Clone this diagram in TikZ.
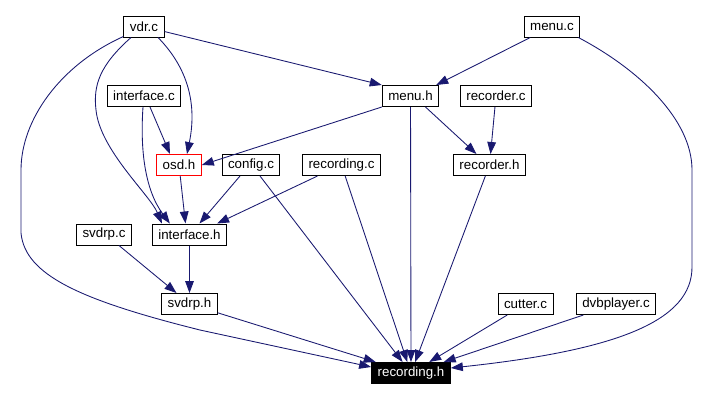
\documentclass[tikz,border=0pt]{standalone}
\usepackage{fontspec}
\setmainfont{Liberation Sans}
\usepackage{tikz}
\definecolor{edgeblue}{HTML}{191970}
\usetikzlibrary{arrows.meta,positioning,calc}

\begin{document}
\begin{tikzpicture}[x=0.75pt,y=-0.75pt,
    file/.style={draw=black,line width=0.75pt,fill=white,inner xsep=4.5pt,inner ysep=0pt,
        minimum height=15.75pt,font=\fontsize{10}{12}\selectfont},
    dep/.style={-{Triangle[length=9pt,width=6.5pt]},color=edgeblue,line width=0.65pt}]
    \useasboundingbox (0,0) rectangle (712,401);

    % sources and headers
    \node[file] (vdrc) at (144,26.5) {vdr.c};
    \node[file] (menuc) at (552,26.5) {menu.c};
    \node[file] (interfacec) at (144,96) {interface.c};
    \node[file] (menuh) at (410.5,96) {menu.h};
    \node[file] (recorderc) at (496,96) {recorder.c};
    \node[file,draw=red] (osdh) at (179,165) {osd.h};
    \node[file] (configc) at (251,165) {config.c};
    \node[file] (recordingc) at (341.5,165) {recording.c};
    \node[file] (recorderh) at (489.5,165) {recorder.h};
    \node[file] (svdrpc) at (104,234.5) {svdrp.c};
    \node[file] (interfaceh) at (189.5,234.5) {interface.h};
    \node[file] (svdrph) at (189.5,304) {svdrp.h};
    \node[file] (cutterc) at (525.5,304) {cutter.c};
    \node[file] (dvbplayerc) at (616,304) {dvbplayer.c};
    \node[file,fill=black,text=white] (recordingh) at (411,373) {recording.h};

    % long detours
    \coordinate (vdrleft) at (21,170);
    \coordinate (vdrleft_) at (21,233);
    \coordinate (menuright) at (692,170);
    \coordinate (menuright_) at (692,267);

    \draw[dep] ($(vdrc.south west)+(0,-1)$) .. controls (60,65) and (21,120) .. (vdrleft) -- (vdrleft_)
        .. controls (25,275) and (80,300) .. (200,330) -- ([yshift=4.5pt]recordingh.west);
    \draw[dep] ($(menuc.south east)+(-2,0)$) .. controls (640,70) and (692,120) .. (menuright) -- (menuright_)
        .. controls (692,320) and (620,350) .. ([yshift=3.75pt]recordingh.east);
    \draw[dep] ($(vdrc.south)+(-13,0)$) .. controls (100,65) and (93,85) .. (96,110)
        .. controls (100,150) and (150,195) .. ($(interfaceh.north west)+(10,0)$);
    \draw[dep] ($(vdrc.south)+(14,0)$) .. controls (185,65) and (198,100) .. ($(osdh.north)+(8,0)$);
    \draw[dep] ($(interfacec.south)+(-1,0)$) .. controls (140,150) and (145,190) .. ($(interfaceh.north west)+(18,0)$);

    % straight ones
    \draw[dep] (vdrc) -- (menuh.north west);
    \draw[dep] (menuc) -- ($(menuh.north east)+(-3,0)$);
    \draw[dep] ($(interfacec.south)+(6,0)$) -- ($(osdh.north)+(-9,0)$);
    \draw[dep] (menuh.south west) -- (osdh.east);
    \draw[dep] ($(menuh.south)+(15,0)$) -- ($(recorderh.north)+(-13,0)$);
    \draw[dep] (menuh) -- (recordingh);
    \draw[dep] (recorderc) -- (recorderh);
    \draw[dep] (recorderh) -- (recordingh);
    \draw[dep] (osdh) -- ($(interfaceh.north)+(-4,0)$);
    \draw[dep] ($(configc.south)+(-11,0)$) -- ($(interfaceh.north)+(10,0)$);
    \draw[dep] ($(configc.south)+(9,0)$) -- (recordingh);
    \draw[dep] ($(recordingc.south)+(-24,0)$) -- ($(interfaceh.north east)+(-10,0)$);
    \draw[dep] (recordingc) -- (recordingh);
    \draw[dep] ($(svdrpc.south)+(15,0)$) -- ($(svdrph.north)+(-13,0)$);
    \draw[dep] (interfaceh) -- (svdrph);
    \draw[dep] (svdrph) -- (recordingh);
    \draw[dep] (cutterc) -- (recordingh);
    \draw[dep] (dvbplayerc) -- (recordingh);
\end{tikzpicture}
\end{document}
